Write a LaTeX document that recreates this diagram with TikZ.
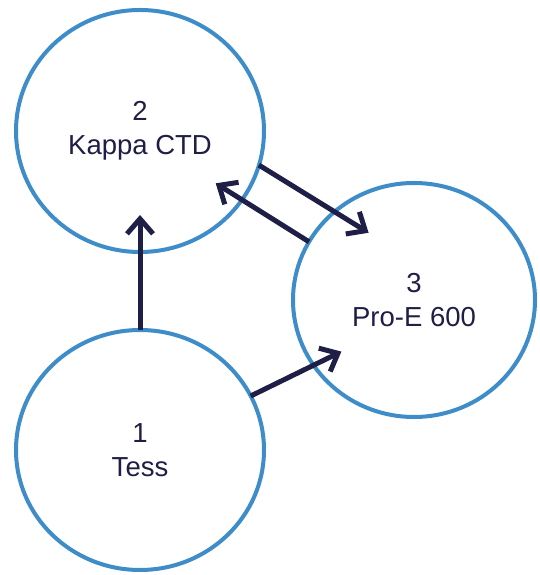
\documentclass[tikz,border=0pt]{standalone}
\usepackage{fontspec}
\setmainfont{Liberation Sans}
\usetikzlibrary{arrows.meta,shapes.geometric}

\definecolor{ringblue}{RGB}{62,140,200}
\definecolor{inkblue}{RGB}{30,30,70}

\tikzset{
  station/.style={ellipse, draw=ringblue, line width=4pt, inner sep=0pt,
    outer sep=0pt, align=center, text=inkblue,
    font=\fontsize{27.5}{34}\selectfont},
  flow/.style={draw=inkblue, line width=5pt,
    -{Straight Barb[length=15pt,width=26pt]}},
}

\begin{document}
\begin{tikzpicture}[x=1pt, y=1pt]
  \useasboundingbox (0,0) rectangle (540,575);

  % the three stations
  \node[station, minimum width=248pt, minimum height=242pt] (kappa) at (140,444) {2\\Kappa CTD};
  \node[station, minimum width=248pt, minimum height=240pt] (tess)  at (140,125) {1\\Tess};
  \node[station, minimum width=242pt, minimum height=234pt] (proe)  at (414,275) {3\\Pro-E 600};

  % transfers, tips reaching into the target
  \draw[flow, shorten >=-37pt] (tess.north) -- (kappa.south);
  \draw[flow, shorten >=-31pt] (tess.26)    -- (proe.213);
  \draw[flow, shorten >=-40pt] (kappa.-16)  -- (proe.132);
  \draw[flow, shorten >=-31pt] (proe.151)   -- (kappa.-34);

\end{tikzpicture}
\end{document}
